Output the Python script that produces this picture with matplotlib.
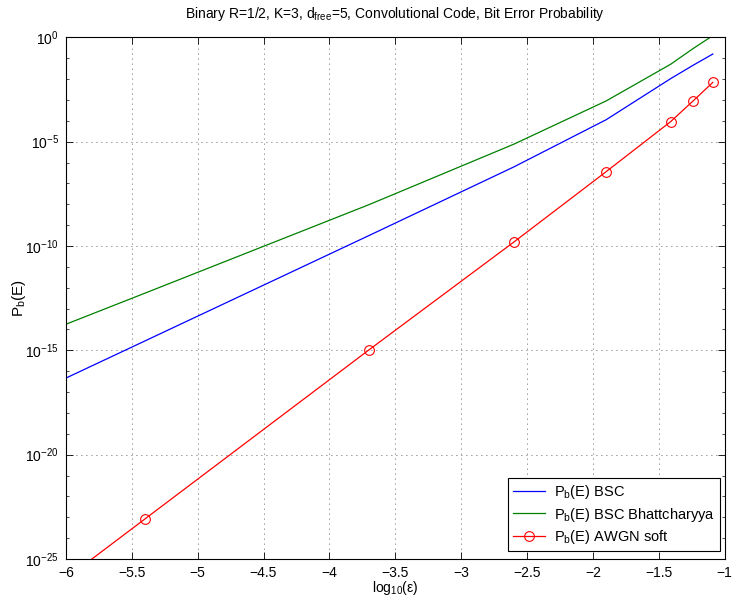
import numpy as np
import matplotlib
matplotlib.use("Agg")
import matplotlib.pyplot as plt
from matplotlib.ticker import FixedLocator, NullFormatter

plt.rcParams['font.family'] = ['Liberation Sans', 'DejaVu Sans']
plt.rcParams['mathtext.fontset'] = 'custom'
plt.rcParams['mathtext.rm'] = 'Liberation Sans'
plt.rcParams['mathtext.it'] = 'Liberation Sans'

# データ (log10(eps) と log10(Pb) の読み取り値)
log_eps = [-6.0, -5.4, -3.7, -2.6, -1.9, -1.41, -1.24, -1.09]
pb_bsc_exp = [-16.33, -14.55, -9.50, -6.21, -3.95, -1.98, -1.34, -0.80]
pb_bhatt_exp = [-13.75, -12.26, -8.02, -5.12, -3.05, -1.29, -0.54, 0.08]
pb_awgn_exp = [-25.94, -23.08, -14.98, -9.81, -6.44, -4.04, -3.05, -2.16]

x_ticks = [-6, -5.5, -5, -4.5, -4, -3.5, -3, -2.5, -2, -1.5, -1]
x_tick_labels = ['\u22126', '\u22125.5', '\u22125', '\u22124.5', '\u22124', '\u22123.5',
                 '\u22123', '\u22122.5', '\u22122', '\u22121.5', '\u22121']
y_tick_exps = [0, -5, -10, -15, -20, -25]

fs = 10

fig = plt.figure(figsize=(7.32, 6.02), dpi=100)
ax = fig.add_axes([0.090, 0.0714, 0.900, 0.8666])

ax.semilogy(log_eps, np.power(10.0, pb_bsc_exp), color=(0, 0, 1), lw=0.9,
            label=r'P$_\mathrm{b}$(E) BSC')
ax.semilogy(log_eps, np.power(10.0, pb_bhatt_exp), color=(0, 0.5, 0), lw=0.9,
            label=r'P$_\mathrm{b}$(E) BSC Bhattcharyya')
ax.semilogy(log_eps, np.power(10.0, pb_awgn_exp), color=(1, 0, 0), lw=0.9,
            marker='o', ms=7, mfc='none', mew=0.8,
            label=r'P$_\mathrm{b}$(E) AWGN soft')

ax.set_xlim(-6, -1)
ax.set_ylim(1e-25, 1e0)
ax.set_xticks(x_ticks)
ax.set_xticklabels(x_tick_labels)
ax.yaxis.set_major_locator(FixedLocator([10.0 ** e for e in y_tick_exps]))
ax.set_yticklabels([r'10$^{%s}$' % ('\u2212%d' % -e if e < 0 else '0') for e in y_tick_exps])
ax.yaxis.set_minor_locator(FixedLocator([10.0 ** e for e in range(-25, 1)]))
ax.yaxis.set_minor_formatter(NullFormatter())

ax.tick_params(which='both', direction='in', top=True, right=True, labelsize=fs)
ax.tick_params(which='major', length=5, width=0.6, pad=5)
ax.tick_params(which='minor', length=2.5, width=0.5)
for sp in ax.spines.values():
    sp.set_linewidth(0.8)

ax.grid(True, which='major', linestyle=(0, (1, 5)), color='k', linewidth=0.6, alpha=0.8)

ax.set_title('Binary R=1/2, K=3, d$_\\mathrm{free}$=5, Convolutional Code, Bit Error Probability',
             fontsize=fs, pad=14)
ax.set_xlabel('log$_\\mathrm{10}$(\u03b5)', fontsize=fs, labelpad=-1)
ax.set_ylabel('P$_\\mathrm{b}$(E)', fontsize=fs + 1, labelpad=-2)

leg = ax.legend(loc='lower right', bbox_to_anchor=(1 - 5 / 659, 8 / 522),
                fontsize=fs + 0.5, fancybox=False, framealpha=1,
                edgecolor='k', borderaxespad=0, handlelength=2.2,
                labelspacing=0.3, borderpad=0.35, handletextpad=0.6)
leg.get_frame().set_linewidth(0.8)

fig.savefig('out.png', dpi=100)
